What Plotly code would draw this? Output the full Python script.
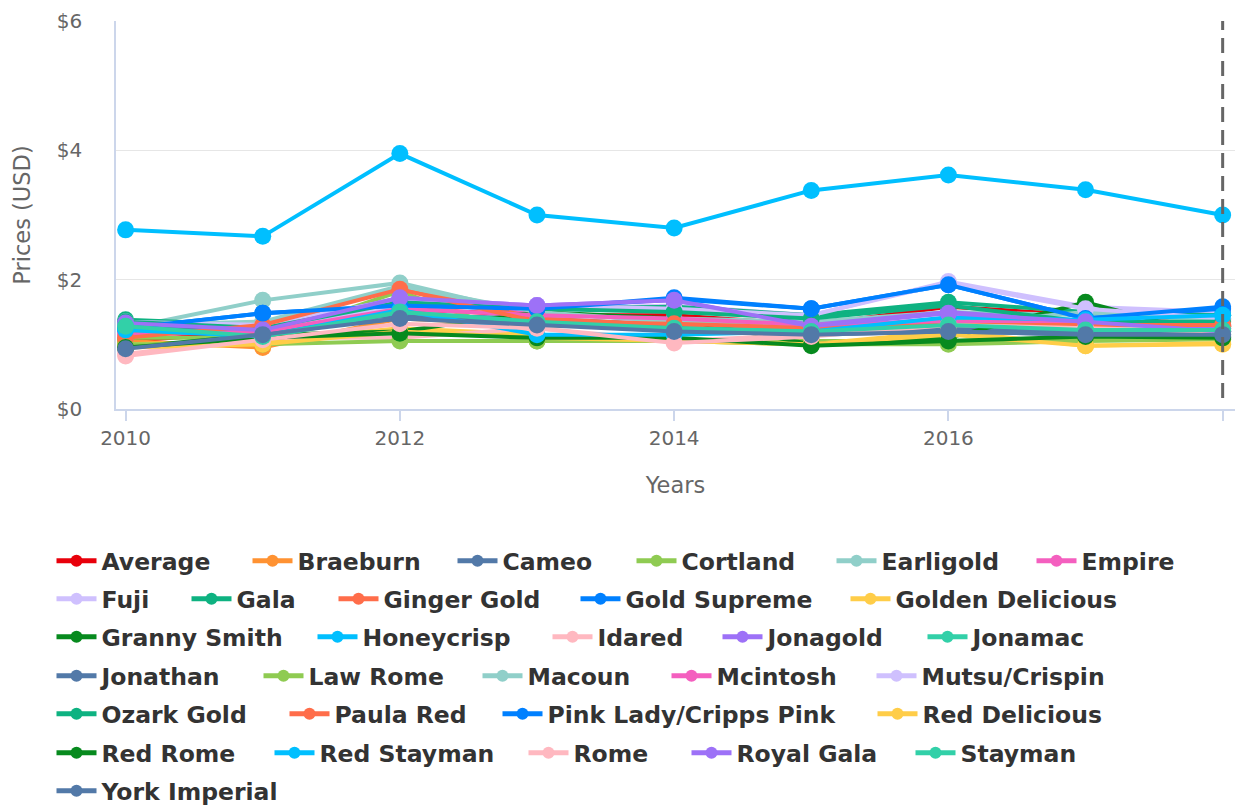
import plotly.graph_objects as go

years = [2010, 2011, 2012, 2013, 2014, 2015, 2016, 2017, 2018]

varieties = [
    "Average", "Braeburn", "Cameo", "Cortland", "Earligold", "Empire", "Fuji", "Gala",
    "Ginger Gold", "Gold Supreme", "Golden Delicious", "Granny Smith", "Honeycrisp",
    "Idared", "Jonagold", "Jonamac", "Jonathan", "Law Rome", "Macoun", "Mcintosh",
    "Mutsu/Crispin", "Ozark Gold", "Paula Red", "Pink Lady/Cripps Pink", "Red Delicious",
    "Red Rome", "Red Stayman", "Rome", "Royal Gala", "Stayman", "York Imperial",
]

average = [1.05, 1.20, 1.55, 1.45, 1.45, 1.30, 1.58, 1.45, 1.38]
braeburn = [1.05, 0.95, 1.40, 1.30, 1.25, 1.15, 1.30, 1.30, 1.28]
cameo = [1.35, 1.30, 1.45, 1.40, 1.30, 1.20, 1.25, 1.20, 1.20]
cortland = [1.10, 1.10, 1.82, 1.05, 1.05, 1.05, 1.05, 1.10, 1.12]
earligold = [1.25, 1.68, 1.95, 1.45, 1.40, 1.35, 1.50, 1.45, 1.40]
empire = [1.20, 1.25, 1.65, 1.50, 1.35, 1.25, 1.40, 1.35, 1.30]
fuji = [1.30, 1.20, 1.60, 1.55, 1.60, 1.45, 1.97, 1.58, 1.50]
gala = [1.38, 1.30, 1.70, 1.55, 1.58, 1.45, 1.65, 1.50, 1.45]
ginger_gold = [1.15, 1.30, 1.88, 1.40, 1.30, 1.25, 1.35, 1.30, 1.28]
gold_supreme = [1.25, 1.48, 1.60, 1.55, 1.72, 1.55, 1.92, 1.40, 1.55]
golden_delicious = [1.00, 1.05, 1.25, 1.15, 1.05, 1.00, 1.20, 0.98, 1.00]
granny_smith = [0.95, 1.15, 1.20, 1.50, 1.40, 1.00, 1.10, 1.65, 1.10]
honeycrisp = [2.77, 2.67, 3.95, 3.00, 2.80, 3.38, 3.62, 3.39, 3.00]
idared = [0.85, 1.10, 1.10, 1.25, 1.05, 1.15, 1.35, 1.30, 1.25]
jonagold = [1.30, 1.25, 1.72, 1.60, 1.68, 1.30, 1.50, 1.35, 1.25]
jonamac = [1.30, 1.10, 1.50, 1.35, 1.25, 1.20, 1.40, 1.25, 1.20]
jonathan = [1.25, 1.20, 1.40, 1.35, 1.25, 1.15, 1.20, 1.15, 1.15]
law_rome = [1.00, 1.00, 1.05, 1.05, 1.05, 1.00, 1.00, 1.05, 1.08]
macoun = [1.30, 1.35, 1.90, 1.50, 1.35, 1.30, 1.30, 1.50, 1.35]
mcintosh = [1.15, 1.20, 1.55, 1.45, 1.40, 1.30, 1.35, 1.35, 1.30]
mutsu_crispin = [1.35, 1.30, 1.70, 1.60, 1.55, 1.45, 1.95, 1.55, 1.40]
ozark_gold = [1.35, 1.25, 1.65, 1.55, 1.50, 1.40, 1.60, 1.35, 1.35]
paula_red = [1.10, 1.30, 1.85, 1.35, 1.32, 1.25, 1.30, 1.30, 1.30]
pink_lady = [1.25, 1.48, 1.60, 1.55, 1.70, 1.55, 1.92, 1.40, 1.58]
red_delicious = [0.95, 1.00, 1.20, 1.10, 1.05, 1.00, 1.15, 0.98, 1.02]
red_rome = [0.95, 1.10, 1.17, 1.10, 1.10, 0.98, 1.05, 1.12, 1.10]
red_stayman = [1.22, 1.12, 1.53, 1.15, 1.15, 1.20, 1.42, 1.38, 1.45]
rome = [0.82, 1.07, 1.32, 1.25, 1.02, 1.12, 1.30, 1.25, 1.20]
royal_gala = [1.33, 1.22, 1.72, 1.60, 1.68, 1.28, 1.48, 1.35, 1.20]
stayman = [1.28, 1.12, 1.50, 1.35, 1.25, 1.20, 1.30, 1.22, 1.22]
york_imperial = [0.93, 1.15, 1.40, 1.30, 1.20, 1.15, 1.20, 1.15, 1.15]

series_values = [
    average, braeburn, cameo, cortland, earligold, empire, fuji, gala,
    ginger_gold, gold_supreme, golden_delicious, granny_smith, honeycrisp,
    idared, jonagold, jonamac, jonathan, law_rome, macoun, mcintosh,
    mutsu_crispin, ozark_gold, paula_red, pink_lady, red_delicious,
    red_rome, red_stayman, rome, royal_gala, stayman, york_imperial,
]

cycle = ["#5279a8", "#8fcb52", "#90cfc9", "#f45fbf", "#cfc0fe", "#0eb281", "#ff6d4a",
         "#0080ff", "#ffcd48", "#078a1e", "#00bfff", "#ffb8c0", "#9d71f7", "#32d0a8"]
colors = ["#e8000b", "#ff9232"] + [cycle[i % 14] for i in range(29)]

# legend layout: (row, left pixel of symbol) for each entry, wrapped like the reference
row_centers = [561, 599, 637, 676, 714, 753, 791]
legend_slots = [
    (0, 57), (0, 253), (0, 458), (0, 637), (0, 837), (0, 1037),
    (1, 57), (1, 192), (1, 339), (1, 581), (1, 851),
    (2, 57), (2, 318), (2, 553), (2, 723), (2, 928),
    (3, 57), (3, 264), (3, 483), (3, 672), (3, 877),
    (4, 57), (4, 290), (4, 503), (4, 878),
    (5, 57), (5, 275), (5, 529), (5, 692), (5, 916),
    (6, 57),
]

W, H = 1241, 805
fig = go.Figure()
legend_layouts = {}
for i, (name, vals, col) in enumerate(zip(varieties, series_values, colors)):
    key = "legend" if i == 0 else f"legend{i + 1}"
    fig.add_trace(go.Scatter(
        x=years, y=vals, name=name, mode="lines+markers",
        line=dict(color=col, width=4),
        marker=dict(color=col, size=17),
        legend=key,
    ))
    row, left = legend_slots[i]
    legend_layouts[key] = dict(
        orientation="h", xref="container", yref="container",
        x=(left - 5.5) / W, y=1 - (row_centers[row] - 22) / H,
        xanchor="left", yanchor="top",
        bgcolor="rgba(0,0,0,0)", borderwidth=0,
        font=dict(family="DejaVu Sans", size=23.5, color="#333333", weight="bold"),
        itemwidth=40, itemsizing="constant",
    )

fig.add_shape(type="line", xref="x", yref="y", x0=2018, x1=2018, y0=0.17, y1=6.05,
              line=dict(color="#666666", width=3, dash="15px,8px"), layer="above")

fig.update_layout(
    width=W, height=H,
    margin=dict(l=116, r=6, t=21, b=396),
    paper_bgcolor="white", plot_bgcolor="white",
    font=dict(family="DejaVu Sans", color="#666666", size=20),
    showlegend=True,
    xaxis=dict(
        range=[2009.93, 2018.09], tickvals=[2010, 2012, 2014, 2016, 2018],
        showgrid=False, zeroline=False, showline=True, linecolor="#ccd6eb", linewidth=1.5,
        ticks="outside", ticklen=10, tickcolor="#ccd6eb", tickwidth=1.5,
        tickfont=dict(size=20, color="#666666"),
        title=dict(text="Years", font=dict(size=22.5, color="#666666"), standoff=28),
    ),
    yaxis=dict(
        range=[0, 6], dtick=2, tickprefix="$", showgrid=True, gridcolor="#e6e6e6", gridwidth=1,
        zeroline=False, showline=True, linecolor="#ccd6eb", linewidth=1.5,
        tickfont=dict(size=20, color="#666666"), ticklabelstandoff=28,
        title=dict(text="Prices (USD)", font=dict(size=22.5, color="#666666"), standoff=20),
    ),
    **legend_layouts,
)

fig.write_html("out.html", config={"displayModeBar": False},
               post_script="document.body.style.margin='0';")
